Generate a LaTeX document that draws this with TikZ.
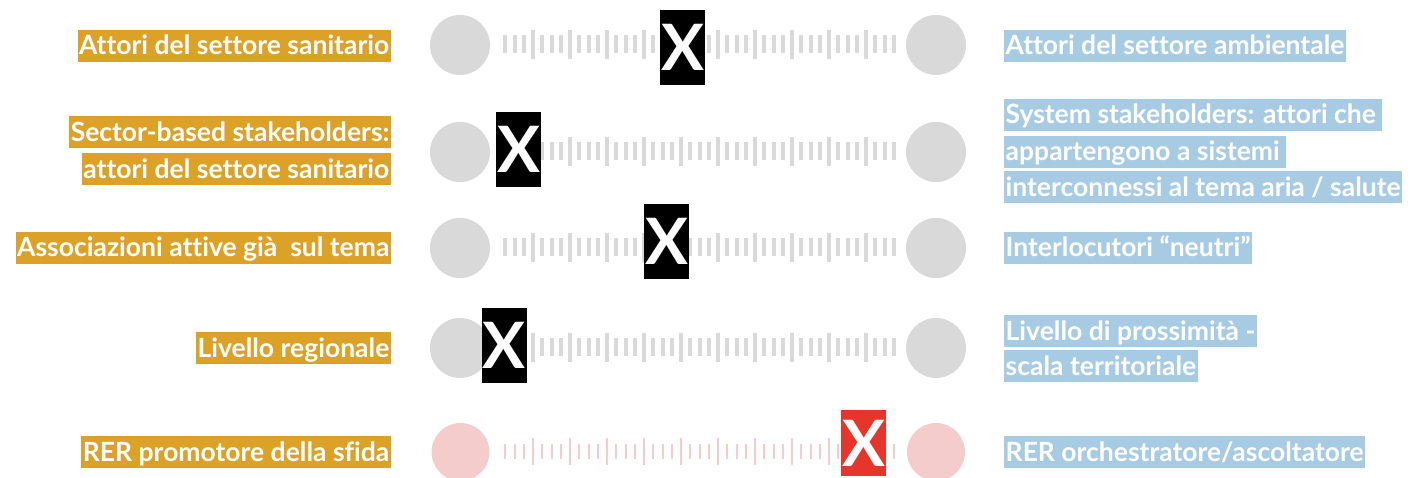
\documentclass[tikz,border=0pt]{standalone}
\usepackage{fontspec}
\setmainfont{Lato}[Ligatures=CommonOff]
\definecolor{gold}{HTML}{DBA227}
\definecolor{skyb}{HTML}{A8CBE4}
\definecolor{lgray}{HTML}{D9D9D9}
\definecolor{lpink}{HTML}{F4CCCC}
\definecolor{xred}{HTML}{E8352B}
\tikzset{
  lab/.style={fill=gold, text=white, font=\bfseries\fontsize{26.5}{30}\selectfont,
    inner xsep=1.5pt, inner ysep=6.6pt, text height=18.8pt, text depth=0pt},
  llab/.style={lab, anchor=east},
  rlab/.style={lab, fill=skyb, anchor=west},
  dot/.style={circle, fill=lgray, minimum size=60pt, inner sep=0pt},
  pdot/.style={circle, fill=lpink, minimum size=58pt, inner sep=0pt},
  xbox/.style={fill=black, text=white, minimum width=45pt, minimum height=75pt,
    inner sep=0pt, font=\bfseries\fontsize{64}{64}\selectfont},
  gtick/.style={draw=lgray, line width=4pt},
  ptick/.style={draw=lpink, line width=2pt},
}
\newcommand\mytickrow[4]{% y, short half, long half, style
  \foreach \i in {0,...,42}{
    \pgfmathsetmacro\xx{505.25+9.25*\i}
    \pgfmathparse{mod(\i,4)==3 ? #3 : #2}\let\hh\pgfmathresult
    \draw[#4] (\xx,#1-\hh) -- (\xx,#1+\hh);
  }}
\begin{document}
\begin{tikzpicture}[x=1pt,y=-1pt]
\useasboundingbox (0,0) rectangle (1422,477);
% row 1
\node[llab] (l1) at (391,45.5) {Attori del settore sanitario};
\node[rlab] (r1) at (1004,45.5) {Attori del settore ambientale};
\node[dot] (a1) at (460,45) {};
\node[dot] (b1) at (936,45) {};
\mytickrow{44}{9}{14.5}{gtick}
\node[xbox] (x1) at (682.5,47.5) {X};
% row 2
\node[llab] (l2a) at (391,132) {Sector-based stakeholders:};
\node[llab] (l2b) at (391,169) {attori del settore sanitario};
\node[rlab] (r2a) at (1004,114.5) {System stakeholders: attori che\kern5pt};
\node[rlab] (r2b) at (1004,151.5) {appartengono a sistemi\kern5pt};
\node[rlab] (r2c) at (1004,187) {interconnessi al tema aria / salute};
\node[dot] (a2) at (460,152) {};
\node[dot] (b2) at (936,152) {};
\mytickrow{151}{9}{14.5}{gtick}
\node[xbox] (x2) at (518.5,149.5) {X};
% row 3
\node[llab] (l3) at (391,247.5) {Associazioni attive già~ sul tema};
\node[rlab] (r3) at (1004,247.5) {Interlocutori “neutri”};
\node[dot] (a3) at (460,248) {};
\node[dot] (b3) at (936,248) {};
\mytickrow{247}{9}{14.5}{gtick}
\node[xbox] (x3) at (666.5,241.5) {X};
% row 4
\node[llab] (l4) at (391,348) {Livello regionale};
\node[rlab] (r4a) at (1004,331) {Livello di prossimità -};
\node[rlab] (r4b) at (1004,366) {scala territoriale};
\node[dot] (a4) at (460,348) {};
\node[dot] (b4) at (936,348) {};
\mytickrow{347}{9}{14.5}{gtick}
\node[xbox] (x4) at (504,345.5) {X};
% row 5
\node[llab] (l5) at (391,452) {RER promotore della sfida};
\node[rlab] (r5) at (1004,452) {RER orchestratore/ascoltatore};
\node[pdot] (a5) at (460.5,452) {};
\node[pdot] (b5) at (936,452) {};
\mytickrow{451}{7.5}{13.5}{ptick}
\node[xbox, fill=xred, minimum height=66pt] (x5) at (863.5,443) {X};
\end{tikzpicture}
\end{document}
